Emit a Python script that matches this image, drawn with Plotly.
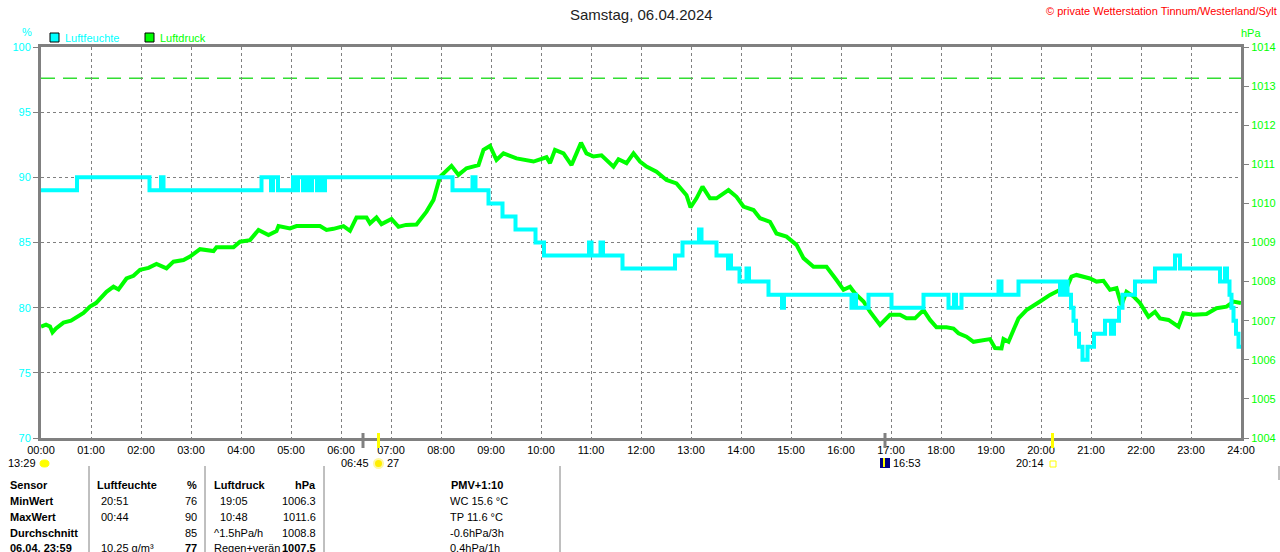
import plotly.graph_objs as go

# Tagesdaten Samstag 06.04.2024 (Stunden seit Mitternacht)
hum_time = [0, 0.72, 2.17, 2.40, 2.45, 4.41, 4.60, 4.64, 4.74, 5.04, 5.09, 5.14, 5.24, 5.30,
            5.38, 5.42, 5.52, 5.56, 5.64, 5.68, 8.23, 8.63, 8.69, 8.95, 9.23, 9.49, 9.89,
            10.06, 10.96, 11.01, 11.19, 11.24, 11.63, 12.68, 12.83, 13.16, 13.21, 13.51,
            13.74, 13.78, 13.80, 13.97, 14.11, 14.16, 14.55, 14.82, 14.86, 16.21, 16.25,
            16.30, 16.55, 17.01, 17.65, 18.15, 18.26, 18.30, 18.41, 19.15, 19.21, 19.55,
            20.38, 20.46, 20.53, 20.60, 20.65, 20.70, 20.76, 20.83, 20.93, 21.06, 21.28,
            21.40, 21.46, 21.56, 21.63, 21.88, 22.28, 22.68, 22.78, 23.58, 23.68, 23.72,
            23.77, 23.81, 23.85, 23.90, 23.95, 24.0]
hum_value = [89, 90, 89, 90, 89, 90, 89, 90, 89, 90, 89, 90, 89, 90,
             89, 90, 89, 90, 89, 90, 89, 90, 89, 88, 87, 86, 85,
             84, 85, 84, 85, 84, 83, 84, 85, 86, 85, 84,
             83, 84, 83, 82, 83, 82, 81, 80, 81, 80, 81,
             80, 81, 80, 81, 80, 81, 80, 81, 82, 81, 82,
             81, 82, 81, 80, 79, 78, 77, 76, 77, 78, 79,
             78, 79, 80, 81, 82, 83, 84, 83, 82, 83, 82,
             81, 80, 79, 78, 77, 77]

press_time = [0.00, 0.10, 0.18, 0.23, 0.30, 0.45, 0.60, 0.71, 0.85, 0.98, 1.10, 1.31, 1.45,
              1.55, 1.71, 1.85, 1.98, 2.15, 2.31, 2.51, 2.65, 2.85, 2.98, 3.18, 3.30, 3.45,
              3.51, 3.85, 3.98, 4.18, 4.35, 4.55, 4.71, 4.75, 4.98, 5.11, 5.58, 5.71, 5.85,
              6.05, 6.18, 6.31, 6.51, 6.58, 6.71, 6.81, 7.01, 7.15, 7.30, 7.51, 7.71, 7.85,
              7.98, 8.05, 8.21, 8.35, 8.51, 8.75, 8.85, 8.98, 9.11, 9.25, 9.51, 9.85, 10.11,
              10.18, 10.28, 10.45, 10.61, 10.71, 10.80, 10.91, 11.05, 11.21, 11.45, 11.55,
              11.71, 11.85, 11.98, 12.11, 12.31, 12.51, 12.71, 12.91, 12.99, 13.11, 13.23,
              13.38, 13.51, 13.75, 13.91, 14.05, 14.25, 14.38, 14.58, 14.71, 14.91, 15.11,
              15.25, 15.45, 15.71, 15.91, 16.05, 16.18, 16.28, 16.45, 16.58, 16.78, 16.98,
              17.18, 17.31, 17.48, 17.65, 17.78, 17.91, 18.11, 18.25, 18.35, 18.51, 18.65,
              18.85, 18.98, 19.08, 19.21, 19.25, 19.35, 19.45, 19.55, 19.71, 19.85, 19.98,
              20.18, 20.38, 20.51, 20.61, 20.71, 20.98, 21.11, 21.25, 21.38, 21.51, 21.61,
              21.71, 21.85, 21.98, 22.15, 22.28, 22.38, 22.55, 22.75, 22.85, 23.05, 23.31,
              23.51, 23.71, 23.85, 24.00]
press_value = [1006.85, 1006.90, 1006.85, 1006.70, 1006.80, 1006.95, 1007.00, 1007.10, 1007.20,
               1007.36, 1007.45, 1007.74, 1007.87, 1007.80, 1008.08, 1008.15, 1008.30, 1008.35,
               1008.45, 1008.34, 1008.51, 1008.55, 1008.64, 1008.83, 1008.80, 1008.78, 1008.88,
               1008.88, 1009.02, 1009.06, 1009.32, 1009.19, 1009.29, 1009.42, 1009.36, 1009.42,
               1009.42, 1009.32, 1009.35, 1009.42, 1009.30, 1009.64, 1009.64, 1009.49, 1009.64,
               1009.47, 1009.60, 1009.40, 1009.45, 1009.46, 1009.79, 1010.09, 1010.68, 1010.77,
               1010.96, 1010.73, 1010.90, 1010.98, 1011.37, 1011.47, 1011.11, 1011.28, 1011.15,
               1011.07, 1011.18, 1011.03, 1011.37, 1011.28, 1010.98, 1011.28, 1011.55, 1011.28,
               1011.20, 1011.23, 1010.94, 1011.13, 1011.03, 1011.28, 1011.07, 1010.94, 1010.81,
               1010.60, 1010.51, 1010.21, 1009.90, 1010.13, 1010.43, 1010.13, 1010.13, 1010.34,
               1010.17, 1009.92, 1009.83, 1009.62, 1009.53, 1009.23, 1009.15, 1008.94, 1008.60,
               1008.38, 1008.38, 1008.04, 1007.79, 1007.87, 1007.70, 1007.49, 1007.23, 1006.89,
               1007.15, 1007.15, 1007.06, 1007.06, 1007.27, 1007.02, 1006.83, 1006.83, 1006.80,
               1006.68, 1006.59, 1006.46, 1006.50, 1006.53, 1006.30, 1006.29, 1006.53, 1006.46,
               1006.76, 1007.06, 1007.27, 1007.40, 1007.49, 1007.66, 1007.79, 1007.83, 1008.13,
               1008.17, 1008.08, 1008.00, 1008.02, 1007.79, 1007.83, 1007.40, 1007.74, 1007.62,
               1007.45, 1007.10, 1007.23, 1007.06, 1007.02, 1006.85, 1007.19, 1007.15, 1007.17,
               1007.32, 1007.36, 1007.49, 1007.45]

hour_ticks = list(range(25))
hour_labels = ['%02d:00' % h for h in hour_ticks]
normal_pressure = 1013.2

# Tabelle unter dem Diagramm
table_rows = ['Sensor', 'MinWert', 'MaxWert', 'Durchschnitt', '06.04. 23:59']
hum_col_a = ['Luftfeuchte', '20:51', '00:44', '', '10.25 g/m³']
hum_col_b = ['%', '76', '90', '85', '77']
press_col_a = ['Luftdruck', '19:05', '10:48', '^1.5hPa/h', 'Regen+verän']
press_col_b = ['hPa', '1006.3', '1011.6', '1008.8', '1007.5']
extra_col = ['PMV+1:10', 'WC 15.6 °C', 'TP 11.6 °C', '-0.6hPa/3h', '0.4hPa/1h']

CYAN = '#00FFFF'
GREEN = '#00FF00'
GRAY = '#808080'
FONT = 'Liberation Sans'


# pixel -> paper coordinates (plot area 41..1241 x 47..438)
def px(x):
    return (x - 41) / 1200.0


def py(y):
    return (438 - y) / 391.0


data = [go.Scatter(x=press_time, y=press_value, mode='lines', yaxis='y',
                   line=dict(color=GREEN, width=4), name='Luftdruck'),
        go.Scatter(x=hum_time, y=hum_value, mode='lines', yaxis='y2',
                   line=dict(color=CYAN, width=4, shape='hv'), name='Luftfeuchte')]

ann = []


def text(x, y, s, color='black', size=11, anchor='left'):
    ann.append(dict(x=px(x), y=py(y), xref='paper', yref='paper', text=s, showarrow=False,
                    xanchor=anchor, yanchor='middle', font=dict(color=color, size=size, family=FONT)))


text(641, 15, 'Samstag, 06.04.2024', '#222222', 15, 'center')
text(1279, 11, '© private Wetterstation Tinnum/Westerland/Sylt', '#FF0000', 11, 'right')
text(27, 32, '%', CYAN, 11, 'center')
text(1251, 33, 'hPa', GREEN, 11, 'center')
text(63, 38, 'Luftfeuchte', CYAN)
text(158, 38, 'Luftdruck', GREEN)

# Zeitmarken unter der Achse
text(38, 463, '13:29', anchor='right')
text(371, 463, '06:45', anchor='right')
text(385, 463, '27')
text(891, 463, '16:53')
text(1046, 463, '20:14', anchor='right')

row_y = [485, 501, 517, 533, 548]
for i, yy in enumerate(row_y):
    b = (i == 0)
    text(8, yy, '<b>%s</b>' % table_rows[i])
    text(95 if b else 99, yy, '<b>%s</b>' % hum_col_a[i] if b else hum_col_a[i])
    text(199, yy, '<b>%s</b>' % hum_col_b[i] if b or i == 4 else hum_col_b[i], anchor='right')
    text(212 if (b or i >= 3) else 218, yy, '<b>%s</b>' % press_col_a[i] if b else press_col_a[i])
    text(318, yy, '<b>%s</b>' % press_col_b[i] if b or i == 4 else press_col_b[i], anchor='right')
    if b:
        text(477, yy, '<b>%s</b>' % extra_col[i], anchor='center')
    else:
        text(448, yy, extra_col[i])

shapes = [dict(type='line', xref='paper', yref='y', x0=0, x1=1, y0=normal_pressure,
               y1=normal_pressure, line=dict(color='#33DD33', width=1.5, dash='14px,8px'), layer='below'),
          # Legende
          dict(type='rect', xref='paper', yref='paper', x0=px(50), x1=px(59), y0=py(42), y1=py(33),
               fillcolor=CYAN, line=dict(color='black', width=1)),
          dict(type='rect', xref='paper', yref='paper', x0=px(145), x1=px(154), y0=py(42), y1=py(33),
               fillcolor=GREEN, line=dict(color='black', width=1)),
          # Marken an der Zeitachse
          dict(type='line', xref='x', yref='paper', x0=6.44, x1=6.44, y0=py(448), y1=py(433),
               line=dict(color=GRAY, width=3)),
          dict(type='line', xref='x', yref='paper', x0=6.75, x1=6.75, y0=py(448), y1=py(433),
               line=dict(color='#FFFF00', width=3)),
          dict(type='line', xref='x', yref='paper', x0=16.88, x1=16.88, y0=py(448), y1=py(433),
               line=dict(color=GRAY, width=3)),
          dict(type='line', xref='x', yref='paper', x0=20.23, x1=20.23, y0=py(448), y1=py(433),
               line=dict(color='#FFFF00', width=3)),
          # Symbole
          dict(type='circle', xref='paper', yref='paper', x0=px(40), x1=px(49), y0=py(467), y1=py(460),
               fillcolor='#FFFF00', line=dict(color='#FFFF00', width=1)),
          dict(type='circle', xref='paper', yref='paper', x0=px(374), x1=px(383), y0=py(468), y1=py(459),
               fillcolor='#FFEE00', line=dict(color='#FFF8A0', width=2)),
          dict(type='rect', xref='paper', yref='paper', x0=px(880), x1=px(890), y0=py(468), y1=py(458),
               fillcolor='#000080', line=dict(color='#000080', width=0)),
          dict(type='rect', xref='paper', yref='paper', x0=px(1050), x1=px(1056), y0=py(467), y1=py(461),
               fillcolor='white', line=dict(color='#FFFF00', width=1)),
          dict(type='line', xref='paper', yref='paper', x0=px(884), x1=px(884), y0=py(467), y1=py(458),
               line=dict(color='#FFFF00', width=2))]

# Trennlinien der Tabelle
for sx in [89, 205, 324, 560]:
    shapes.append(dict(type='line', xref='paper', yref='paper', x0=px(sx), x1=px(sx),
                       y0=py(466), y1=py(560), line=dict(color=GRAY, width=1)))
shapes.append(dict(type='line', xref='paper', yref='paper', x0=px(1279), x1=px(1279),
                   y0=py(466), y1=py(480), line=dict(color=GRAY, width=1)))

layout = go.Layout(width=1280, height=552,
                   margin=dict(l=41, r=39, t=47, b=114, autoexpand=False),
                   paper_bgcolor='white', plot_bgcolor='white', showlegend=False,
                   font=dict(family=FONT, size=11),
                   xaxis=dict(range=[0, 24], tickvals=hour_ticks, ticktext=hour_labels,
                              showgrid=True, gridcolor=GRAY, griddash='3px,3px', gridwidth=1,
                              showline=True, linecolor=GRAY, linewidth=3, mirror=True,
                              ticks='', tickfont=dict(color='black', size=11), zeroline=False),
                   yaxis=dict(range=[1004, 1014], dtick=1, side='right', showgrid=False,
                              ticks='outside', ticklen=5, tickcolor=GRAY, zeroline=False,
                              tickfont=dict(color=GREEN, size=11), showline=True,
                              linecolor=GRAY, linewidth=3),
                   yaxis2=dict(range=[70, 100], dtick=5, side='left', overlaying='y',
                               showgrid=True, gridcolor=GRAY, griddash='3px,3px', gridwidth=1,
                               ticks='outside', ticklen=5, tickcolor=GRAY, zeroline=False,
                               tickfont=dict(color=CYAN, size=11), showline=True,
                               linecolor=GRAY, linewidth=3),
                   annotations=ann, shapes=shapes)

fig = go.Figure(data=data, layout=layout)
# Browser-Rand entfernen, damit das Bild bei 0,0 beginnt
fig.write_html('out.html', config={'displayModeBar': False},
               post_script="document.body.style.margin='0';")
